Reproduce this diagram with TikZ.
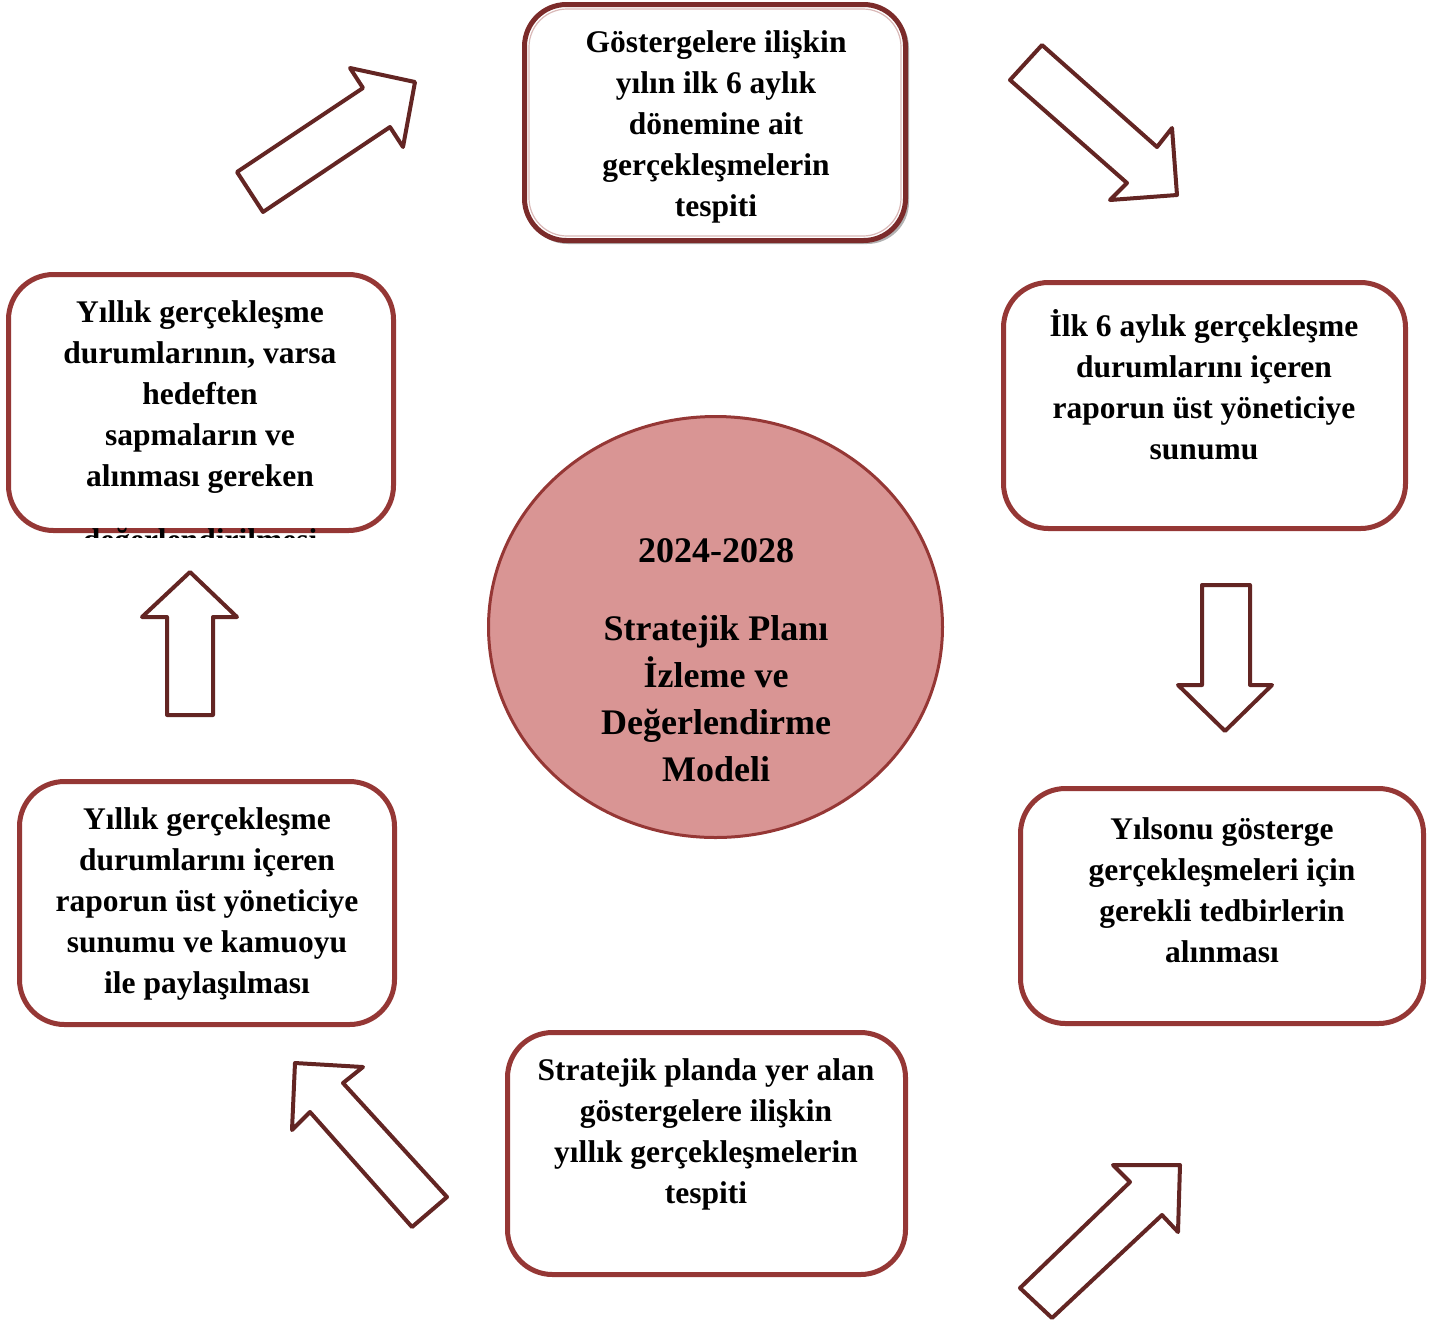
\documentclass[tikz,border=0pt]{standalone}
\usepackage{fontspec}
\setmainfont{Liberation Serif}
\usetikzlibrary{shapes.geometric}
\definecolor{boxred}{HTML}{953735}
\definecolor{arrowred}{HTML}{632523}
\definecolor{circfill}{HTML}{D99594}
\definecolor{topred}{HTML}{7B2B2A}
\begin{document}
\begin{tikzpicture}[x=1pt,y=-1pt,
 boxnode/.style={draw=boxred, line width=5pt, rounded corners=45pt, fill=white, inner sep=0pt, rectangle},
 arrowshape/.style={draw=arrowred, line width=4pt, fill=white, line join=round},
 boxtext/.style={font=\bfseries\fontsize{31.5}{41}\selectfont, align=center, inner sep=0pt},
 circtext/.style={font=\bfseries\fontsize{36}{47}\selectfont, align=center, inner sep=0pt}]
\useasboundingbox (0,0) rectangle (1453,1326);

% top box with shadow
\node[rectangle, fill=black!30, rounded corners=42pt, inner sep=0pt, minimum width=383pt, minimum height=238pt] (b1s) at (717.5,125) {};
\node[boxnode, draw=topred, line width=5pt, rounded corners=42pt, minimum width=381pt, minimum height=236pt] (b1) at (715,122.5) {};
\node[rectangle, draw=boxred!35, line width=1.2pt, rounded corners=38pt, inner sep=0pt, minimum width=372pt, minimum height=227pt] (b1i) at (715,122.5) {};

\node[boxnode, minimum width=385pt, minimum height=256pt] (b2) at (201,402.5) {};
\node[boxnode, minimum width=402pt, minimum height=246pt] (b3) at (1204.5,405.5) {};
\node[boxnode, minimum width=403pt, minimum height=235pt] (b4) at (1222,906) {};
\node[boxnode, minimum width=398pt, minimum height=242pt] (b5) at (706.5,1153.5) {};
\node[boxnode, minimum width=375pt, minimum height=243pt] (b6) at (207,903) {};

\node[ellipse, draw=boxred, line width=3pt, fill=circfill, inner sep=0pt, minimum width=454pt, minimum height=421pt] (c) at (715.5,627) {};

% texts
\node[boxtext] (t1) at (716,126.5) {Göstergelere ilişkin\\yılın ilk 6 aylık\\dönemine ait\\gerçekleşmelerin\\tespiti};
\node[boxtext] (t2) at (200,397) {Yıllık gerçekleşme\\durumlarının, varsa\\hedeften\\sapmaların ve\\alınması gereken};
\begin{scope}
\clip (0,0) rectangle (1453,537);
\node[boxtext, anchor=base] (t2b) at (200,550) {değerlendirilmesi};
\end{scope}
\node[boxtext] (t3) at (1204,385) {İlk 6 aylık gerçekleşme\\durumlarını içeren\\raporun üst yöneticiye\\sunumu};
\node[boxtext] (t4) at (1222,890.5) {Yılsonu gösterge\\gerçekleşmeleri için\\gerekli tedbirlerin\\alınması};
\node[boxtext] (t5) at (706,1134.5) {Stratejik planda yer alan\\göstergelere ilişkin\\yıllık gerçekleşmelerin\\tespiti};
\node[boxtext] (t6) at (207,903.5) {Yıllık gerçekleşme\\durumlarını içeren\\raporun üst yöneticiye\\sunumu ve kamuoyu\\ile paylaşılması};

\node[circtext] (cy) at (716,551) {2024-2028};
\node[circtext] (ct) at (716,699) {Stratejik Planı\\İzleme ve\\Değerlendirme\\Modeli};

% block arrows
\draw[arrowshape] (237,172) -- (363,88) -- (350,68) -- (415,82) -- (403,147) -- (390,127) -- (263,212) -- cycle;
\draw[arrowshape] (1042,45) -- (1157,147) -- (1172,128) -- (1177,195) -- (1110,200) -- (1127,183) -- (1010,80) -- cycle;
\draw[arrowshape] (1202,585) -- (1250,585) -- (1250,685) -- (1272,685) -- (1225,731) -- (1178,685) -- (1202,685) -- cycle;
\draw[arrowshape] (1020,1288) -- (1130,1182) -- (1113,1165) -- (1180,1165) -- (1178,1232) -- (1162,1215) -- (1052,1318) -- cycle;
\draw[arrowshape] (295,1063) -- (363,1067) -- (343,1083) -- (447,1197) -- (412,1227) -- (310,1112) -- (292,1130) -- cycle;
\draw[arrowshape] (190,572) -- (237,617) -- (213,617) -- (213,715) -- (167,715) -- (167,617) -- (142,617) -- cycle;
\end{tikzpicture}
\end{document}
